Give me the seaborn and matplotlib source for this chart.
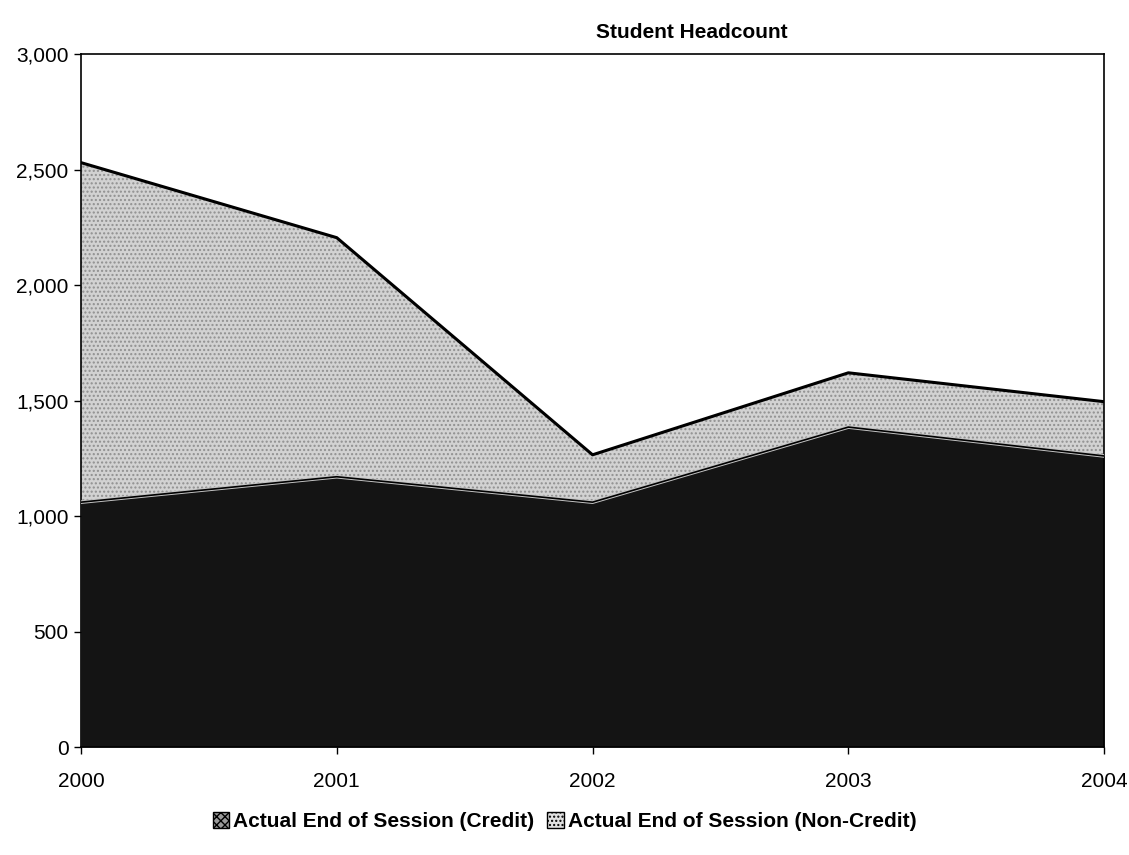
import numpy as np
import pandas as pd
import seaborn as sns
import matplotlib.pyplot as plt
from matplotlib.patches import Patch
from matplotlib.ticker import FuncFormatter

years = [2000, 2001, 2002, 2003, 2004]
credit = [1060, 1170, 1060, 1385, 1260]
non_credit = [1470, 1035, 205, 235, 235]
series_names = ["Actual End of Session (Credit)", "Actual End of Session (Non-Credit)"]

sns.set_theme(style="white")
plt.rcParams["font.family"] = ["Liberation Sans", "DejaVu Sans"]
plt.rcParams["text.color"] = "black"
plt.rcParams["xtick.color"] = "black"
plt.rcParams["ytick.color"] = "black"

df = pd.DataFrame({"year": years, "credit": credit, "non_credit": non_credit})
df["total"] = df["credit"] + df["non_credit"]

fig = plt.figure(figsize=(11.29, 8.55), dpi=100)
ax = fig.add_axes([0.0717, 0.1263, 0.9063, 0.8105])

dark = "#141414"
light = "#d2d2d2"

ax.fill_between(df["year"], 0, df["credit"], color=dark, linewidth=0, zorder=1)
ax.fill_between(df["year"], df["credit"], df["total"], facecolor=light,
                hatch="....", edgecolor="#909090", linewidth=0, zorder=1)

sns.lineplot(data=df, x="year", y="credit", ax=ax, color="#c4c4c4", linewidth=2.6, zorder=3)
sns.lineplot(data=df, x="year", y="credit", ax=ax, color="black", linewidth=1.2, zorder=4)
sns.lineplot(data=df, x="year", y="total", ax=ax, color="black", linewidth=2.2, zorder=4)

ax.set_xlim(years[0], years[-1])
ax.set_ylim(0, 3000)
ax.set_xticks(years)
ax.set_xticklabels([str(y) for y in years])
ax.set_yticks(np.arange(0, 3001, 500))
ax.yaxis.set_major_formatter(FuncFormatter(lambda v, p: f"{int(v):,}"))
ax.set_xlabel("")
ax.set_ylabel("")

for s in ax.spines.values():
    s.set_visible(True)
    s.set_color("black")
    s.set_linewidth(1.2)

ax.tick_params(axis="both", which="major", direction="out", length=5, width=1,
               color="black", labelsize=15, labelcolor="black", left=True, bottom=True)
ax.tick_params(axis="y", pad=4)
ax.tick_params(axis="x", pad=13)

fig.text(0.6125, 0.962, "Student Headcount", ha="center", va="center",
         fontsize=15, fontweight="bold", color="black")

handles = [
    Patch(facecolor="#9a9a9a", edgecolor="black", hatch="xxxx", linewidth=1),
    Patch(facecolor="#e0e0e0", edgecolor="black", hatch="....", linewidth=1),
]
leg = fig.legend(handles, series_names, loc="center", bbox_to_anchor=(0.5, 0.039),
                 ncol=2, frameon=False, handlelength=0.8, handleheight=0.8,
                 handletextpad=0.2, columnspacing=0.6,
                 prop={"size": 15, "weight": "bold"})
for t in leg.get_texts():
    t.set_color("black")

fig.savefig("out.png", dpi=100)
